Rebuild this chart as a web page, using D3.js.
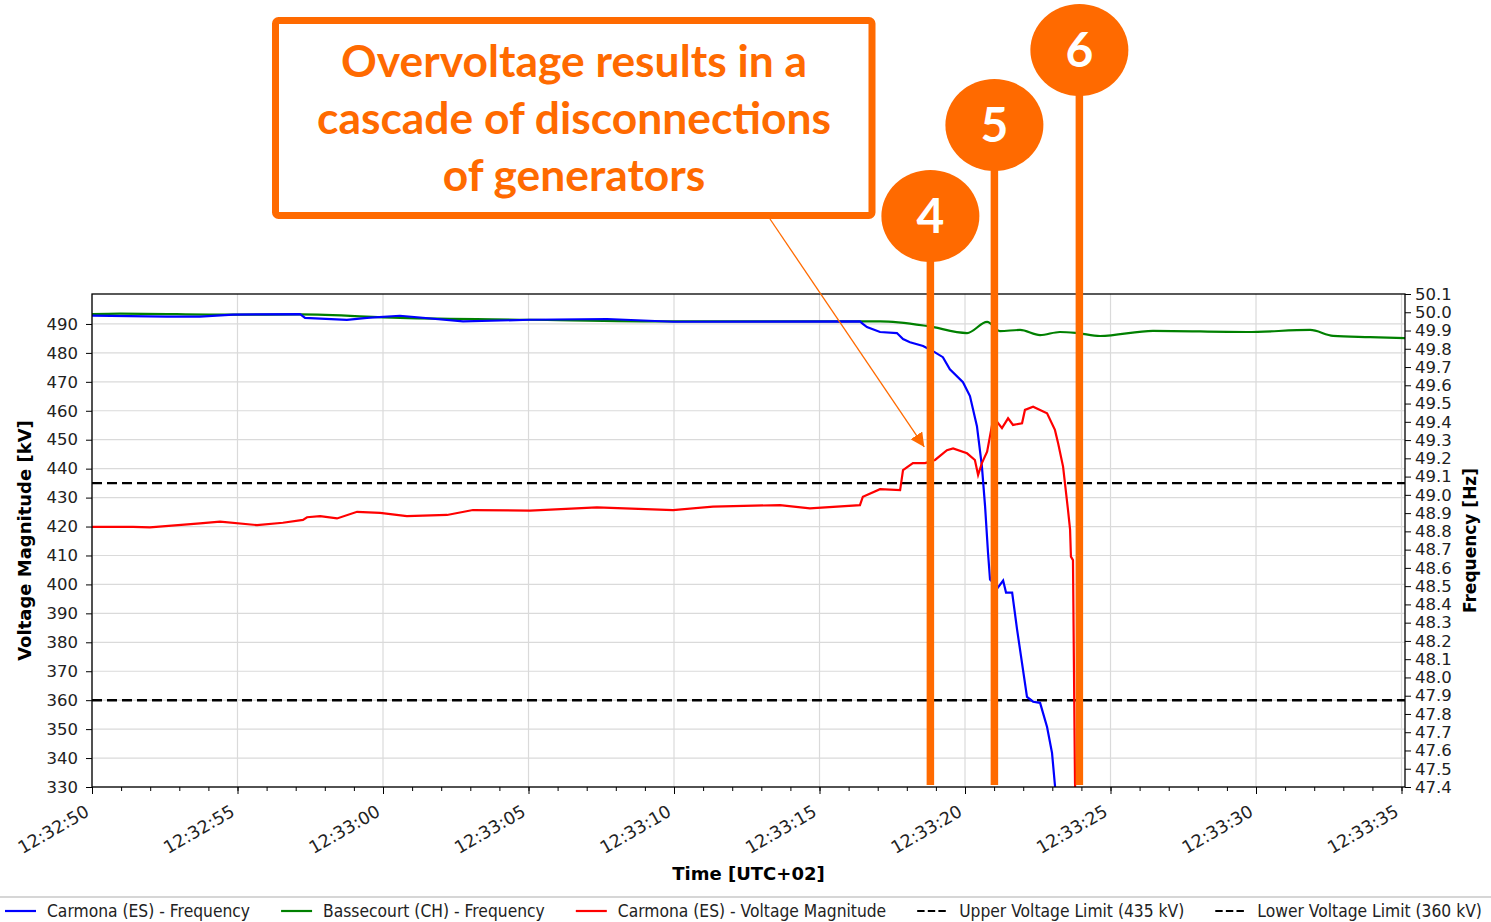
<!DOCTYPE html>
<html>
<head>
<meta charset="utf-8">
<script src="https://cdn.jsdelivr.net/npm/d3@7"></script>
<style>
  body { margin: 0; background: #fff; }
  svg { display: block; font-family: "DejaVu Sans", sans-serif; }
</style>
</head>
<body>
<div id="chart"></div>
<script>
// times are seconds after 12:32:50 (UTC+02)
const carmonaFreqT = [0, 2.58, 3.71, 4.85, 7.15, 7.32, 8.76, 9.45, 10.58, 12.75, 15.05, 17.70, 19.97, 26.39, 26.50, 26.63, 27.08, 27.66, 27.87, 28.11, 28.56, 28.90, 29.24, 29.48, 29.93, 30.17, 30.41, 30.58, 30.69, 30.79, 30.86, 31.13, 31.31, 31.41, 31.62, 31.79, 32.13, 32.34, 32.58, 32.82, 32.99, 33.09, 33.12];
const carmonaFreqHz = [49.982, 49.976, 49.976, 49.987, 49.990, 49.969, 49.958, 49.969, 49.981, 49.950, 49.959, 49.963, 49.948, 49.950, 49.935, 49.919, 49.892, 49.886, 49.853, 49.836, 49.815, 49.787, 49.754, 49.688, 49.617, 49.541, 49.376, 49.157, 48.937, 48.684, 48.536, 48.492, 48.531, 48.465, 48.465, 48.262, 47.894, 47.867, 47.861, 47.729, 47.587, 47.411, 47.35];

const bassecourtFreqT = [0, 0.96, 4.85, 7.15, 10.58, 15.05, 19.97, 24.78, 27.08, 28.69, 30.07, 30.76, 31.20, 31.89, 32.58, 33.26, 33.85, 34.64, 36.46, 39.69, 41.86, 42.65, 43.92, 45.12];
const bassecourtFreqHz = [49.990, 49.993, 49.987, 49.988, 49.969, 49.959, 49.950, 49.950, 49.950, 49.925, 49.886, 49.947, 49.897, 49.903, 49.875, 49.892, 49.886, 49.870, 49.898, 49.892, 49.903, 49.871, 49.864, 49.858];

const carmonaVoltT = [0, 1.41, 1.99, 3.71, 4.40, 5.67, 6.56, 7.25, 7.39, 7.84, 8.42, 9.11, 9.90, 10.82, 12.20, 13.09, 15.05, 17.35, 19.97, 21.34, 23.64, 24.67, 26.39, 26.49, 27.08, 27.77, 27.87, 28.21, 28.63, 28.97, 29.38, 29.59, 30.07, 30.34, 30.45, 30.58, 30.76, 30.93, 31.10, 31.27, 31.48, 31.65, 31.96, 32.06, 32.34, 32.82, 33.09, 33.20, 33.37, 33.54, 33.61, 33.64, 33.71, 33.78, 33.82];
const carmonaVoltKV = [419.9, 419.9, 419.7, 421.1, 421.7, 420.5, 421.3, 422.3, 423.2, 423.6, 422.8, 425.1, 424.7, 423.6, 424.0, 425.7, 425.5, 426.6, 425.7, 426.9, 427.4, 426.3, 427.4, 430.3, 432.9, 432.6, 439.5, 441.9, 441.9, 443.0, 446.4, 447.0, 445.3, 443.0, 437.8, 441.9, 445.9, 455.1, 456.2, 454.0, 457.4, 455.1, 455.7, 460.3, 461.4, 459.1, 453.4, 448.8, 440.7, 425.7, 419.0, 409.6, 408.4, 331.4, 320];

const voltageLimits = [435, 360];
const voltTicks = d3.range(330, 491, 10);
const freqTicks = d3.range(474, 502).map(v => v / 10);

const eventLabels = ['4', '5', '6'];
const eventT = [28.81, 31.01, 33.93];
const arrowT = 28.6, arrowKV = 447.5;

const legendNames = ['Carmona (ES) - Frequency', 'Bassecourt (CH) - Frequency', 'Carmona (ES) - Voltage Magnitude', 'Upper Voltage Limit (435 kV)', 'Lower Voltage Limit (360 kV)'];

const titleLines = ['Overvoltage results in a', 'cascade of disconnections', 'of generators'];

const t0 = new Date(2025, 3, 28, 12, 32, 50);
const at = s => new Date(t0.getTime() + s * 1000);

const width = 1491, height = 922;
const plot = { left: 92, right: 1405, top: 294, bottom: 787 };
const orange = '#ff6a00';
const font = '"DejaVu Sans", sans-serif';

const svg = d3.select('#chart').append('svg')
  .attr('width', width)
  .attr('height', height);

const x = d3.scaleTime().domain([at(0), at(45.12)]).range([plot.left, plot.right]);
const yV = d3.scaleLinear().domain([330, 500.35]).range([plot.bottom, plot.top]);
const yF = d3.scaleLinear().domain([47.4, 50.1]).range([plot.bottom, plot.top]);

const majorTimes = d3.range(0, 46, 5).map(at);
const minorTimes = d3.range(0, 46, 1).map(at);

// grid
svg.append('g')
  .selectAll('line')
  .data(voltTicks)
  .join('line')
    .attr('x1', plot.left).attr('x2', plot.right)
    .attr('y1', d => yV(d)).attr('y2', d => yV(d))
    .attr('stroke', '#dadada').attr('stroke-width', 1.2);
svg.append('g')
  .selectAll('line')
  .data(majorTimes)
  .join('line')
    .attr('x1', d => x(d)).attr('x2', d => x(d))
    .attr('y1', plot.top).attr('y2', plot.bottom)
    .attr('stroke', '#dadada').attr('stroke-width', 1.2);

svg.append('clipPath').attr('id', 'clip')
  .append('rect')
    .attr('x', plot.left).attr('y', plot.top)
    .attr('width', plot.right - plot.left).attr('height', plot.bottom - plot.top);

const series = svg.append('g').attr('clip-path', 'url(#clip)');

// limit lines
series.selectAll('line')
  .data(voltageLimits)
  .join('line')
    .attr('x1', plot.left).attr('x2', plot.right)
    .attr('y1', d => yV(d)).attr('y2', d => yV(d))
    .attr('stroke', '#000').attr('stroke-width', 2.4)
    .attr('stroke-dasharray', '10,5');

const zip = (a, b) => a.map((v, i) => [v, b[i]]);

const freqLine = d3.line().x(d => x(at(d[0]))).y(d => yF(d[1]));
const voltLine = d3.line().x(d => x(at(d[0]))).y(d => yV(d[1]));

series.append('path')
  .datum(zip(bassecourtFreqT, bassecourtFreqHz))
  .attr('fill', 'none').attr('stroke', '#008000').attr('stroke-width', 2.2)
  .attr('d', freqLine.curve(d3.curveMonotoneX));

series.append('path')
  .datum(zip(carmonaFreqT, carmonaFreqHz))
  .attr('fill', 'none').attr('stroke', '#0000ff').attr('stroke-width', 2.2)
  .attr('d', freqLine.curve(d3.curveLinear));

series.append('path')
  .datum(zip(carmonaVoltT, carmonaVoltKV))
  .attr('fill', 'none').attr('stroke', '#ff0000').attr('stroke-width', 2.2)
  .attr('d', voltLine);

// axes
const tickFont = '16.5px';
const xAxis = svg.append('g')
  .attr('transform', `translate(0,${plot.bottom})`)
  .call(d3.axisBottom(x).tickValues(minorTimes).tickSize(4).tickFormat(''));
xAxis.select('.domain').remove();

const xMajor = svg.append('g')
  .attr('transform', `translate(0,${plot.bottom})`)
  .call(d3.axisBottom(x).tickValues(majorTimes).tickSize(7).tickFormat(d3.timeFormat('%H:%M:%S')))
  .attr('font-family', font);
xMajor.select('.domain').remove();
xMajor.selectAll('text')
  .attr('x', 0).attr('y', 0).attr('dy', 0)
  .attr('text-anchor', 'end')
  .attr('transform', 'translate(-2,28) rotate(-30)')
  .attr('font-size', '17.5px').attr('fill', '#222');

const yLeft = svg.append('g')
  .attr('transform', `translate(${plot.left},0)`)
  .call(d3.axisLeft(yV).tickValues(voltTicks).tickSize(6).tickPadding(8))
  .attr('font-family', font);
yLeft.select('.domain').remove();
yLeft.selectAll('text').attr('font-size', tickFont).attr('fill', '#222');

const yRight = svg.append('g')
  .attr('transform', `translate(${plot.right},0)`)
  .call(d3.axisRight(yF).tickValues(freqTicks).tickSize(6).tickPadding(4).tickFormat(d3.format('.1f')))
  .attr('font-family', font);
yRight.select('.domain').remove();
yRight.selectAll('text').attr('font-size', tickFont).attr('fill', '#222');

svg.append('rect')
  .attr('x', plot.left).attr('y', plot.top)
  .attr('width', plot.right - plot.left).attr('height', plot.bottom - plot.top)
  .attr('fill', 'none').attr('stroke', '#000').attr('stroke-width', 1.3);

// axis titles
svg.append('text')
  .attr('transform', `translate(31,${(plot.top + plot.bottom) / 2}) rotate(-90)`)
  .attr('text-anchor', 'middle').attr('font-weight', 'bold').attr('font-size', '18px')
  .text('Voltage Magnitude [kV]');
svg.append('text')
  .attr('transform', `translate(1476,${(plot.top + plot.bottom) / 2}) rotate(-90)`)
  .attr('text-anchor', 'middle').attr('font-weight', 'bold').attr('font-size', '17px')
  .text('Frequency [Hz]');
svg.append('text')
  .attr('x', (plot.left + plot.right) / 2).attr('y', 880)
  .attr('text-anchor', 'middle').attr('font-weight', 'bold').attr('font-size', '18px')
  .text('Time [UTC+02]');

// event markers
const events = svg.append('g');
const circleY = [216, 125, 50];
events.selectAll('line')
  .data(eventT)
  .join('line')
    .attr('x1', d => x(at(d))).attr('x2', d => x(at(d)))
    .attr('y1', (d, i) => circleY[i]).attr('y2', 785)
    .attr('stroke', orange).attr('stroke-width', 7.5);
events.selectAll('ellipse')
  .data(eventT)
  .join('ellipse')
    .attr('cx', d => x(at(d))).attr('cy', (d, i) => circleY[i])
    .attr('rx', 49).attr('ry', 46)
    .attr('fill', orange);
events.selectAll('text')
  .data(eventT)
  .join('text')
    .attr('x', d => x(at(d))).attr('y', (d, i) => circleY[i] + 17)
    .attr('text-anchor', 'middle')
    .attr('font-family', 'Lato, "Open Sans", sans-serif').attr('font-weight', 'bold').attr('font-size', '48px')
    .attr('fill', '#fff')
    .text((d, i) => eventLabels[i]);

// callout box
svg.append('defs').append('marker')
  .attr('id', 'head').attr('viewBox', '0 0 10 10')
  .attr('refX', 10).attr('refY', 5)
  .attr('markerWidth', 14).attr('markerHeight', 14)
  .attr('markerUnits', 'userSpaceOnUse')
  .attr('orient', 'auto')
  .append('path').attr('d', 'M0,0 L10,5 L0,10 z').attr('fill', orange);

svg.append('line')
  .attr('x1', 770).attr('y1', 219)
  .attr('x2', x(at(arrowT))).attr('y2', yV(arrowKV))
  .attr('stroke', orange).attr('stroke-width', 1.3)
  .attr('marker-end', 'url(#head)');

svg.append('rect')
  .attr('x', 275.5).attr('y', 20.5).attr('width', 596.5).attr('height', 195)
  .attr('rx', 3)
  .attr('fill', '#fff').attr('stroke', orange).attr('stroke-width', 7);

const title = svg.append('g');
const titleText = title.selectAll('text')
  .data(titleLines)
  .join('text')
    .attr('x', 0).attr('y', (d, i) => 77 + i * 57)
    .attr('text-anchor', 'middle')
    .attr('font-family', 'Lato, "Open Sans", sans-serif').attr('font-weight', 'bold').attr('font-size', '44px')
    .attr('fill', orange)
    .text(d => d);
const widest = titleText.nodes()[1].getComputedTextLength();
title.attr('transform', `translate(574,0) scale(${514 / widest},1)`);

// legend
svg.append('rect')
  .attr('x', -2).attr('y', 897).attr('width', width + 4).attr('height', 40)
  .attr('fill', '#fff').attr('stroke', '#d6d6d6').attr('stroke-width', 2);

const legendColors = ['#0000ff', '#008000', '#ff0000', '#000', '#000'];
const legendDash = [null, null, null, '7.4,3.2', '7.4,3.2'];
const squeeze = 0.915;
let lx = 5;
legendNames.forEach((name, i) => {
  const g = svg.append('g').attr('transform', `translate(${lx},911)`);
  g.append('line')
    .attr('x1', 0).attr('x2', 31)
    .attr('stroke', legendColors[i]).attr('stroke-width', 2.2)
    .attr('stroke-dasharray', legendDash[i]);
  const t = g.append('text')
    .attr('transform', `translate(42,6) scale(${squeeze},1)`)
    .attr('font-size', '17px').attr('fill', '#222')
    .text(name);
  lx += 42 + t.node().getComputedTextLength() * squeeze + 31;
});
</script>
</body>
</html>
